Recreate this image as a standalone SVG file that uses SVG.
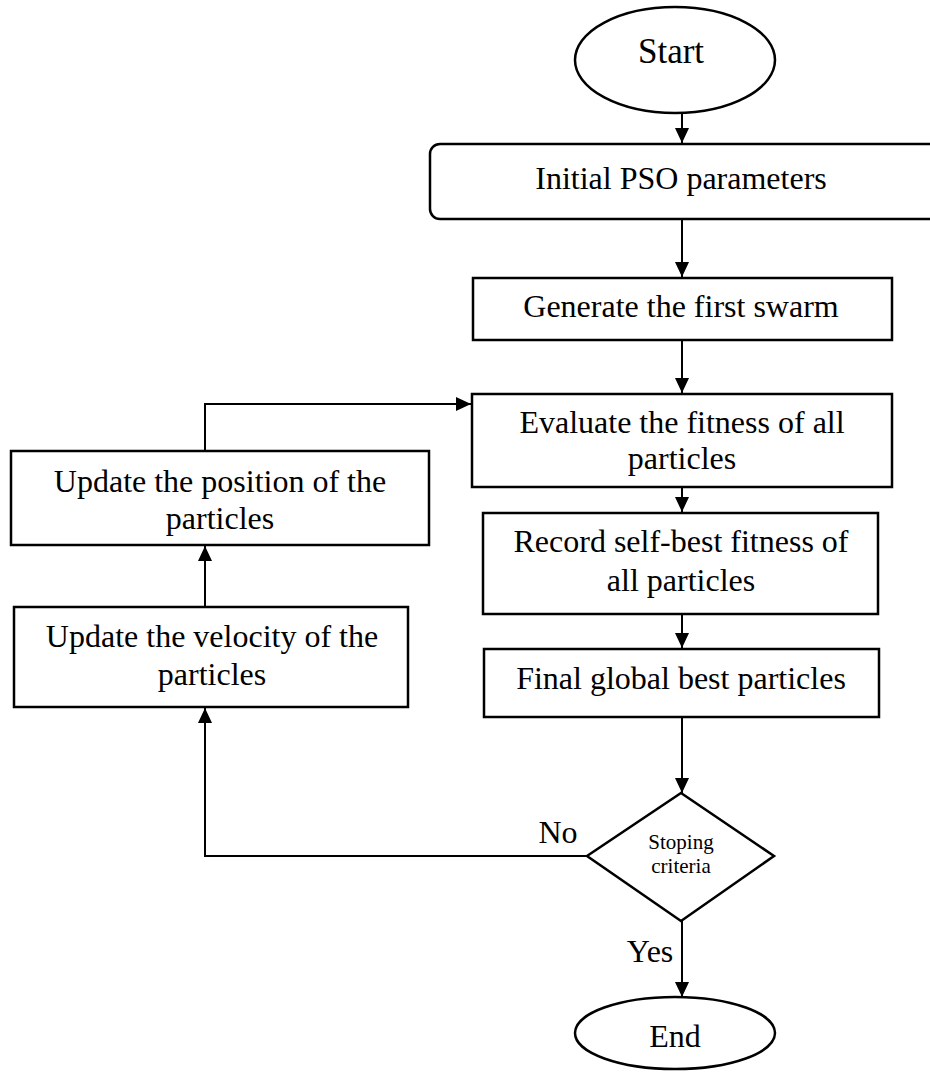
<svg xmlns="http://www.w3.org/2000/svg" width="930" height="1072" viewBox="0 0 930 1072">
<style>
.box{fill:#fff;stroke:#000;stroke-width:2.5}
.t{font-family:"Liberation Serif","Times New Roman",serif;font-size:32px;fill:#000;text-anchor:middle}
.s{font-family:"Liberation Serif","Times New Roman",serif;font-size:21px;fill:#000;text-anchor:middle}
.c{fill:none;stroke:#000;stroke-width:2}
</style>
<defs>
<marker id="ah" markerUnits="userSpaceOnUse" markerWidth="16" markerHeight="14" refX="15" refY="7" orient="auto">
<path d="M0,0 L15,7 L0,14 Z" fill="#000"/>
</marker>
</defs>
<rect width="930" height="1072" fill="#fff"/>
<g id="connectors">
<line class="c" x1="682" y1="113" x2="682" y2="143" marker-end="url(#ah)"/>
<line class="c" x1="682" y1="220" x2="682" y2="277" marker-end="url(#ah)"/>
<line class="c" x1="682" y1="340" x2="682" y2="393" marker-end="url(#ah)"/>
<line class="c" x1="682" y1="487" x2="682" y2="512" marker-end="url(#ah)"/>
<line class="c" x1="682" y1="614" x2="682" y2="648" marker-end="url(#ah)"/>
<line class="c" x1="682" y1="717" x2="682" y2="793" marker-end="url(#ah)"/>
<line class="c" x1="682" y1="921" x2="682" y2="997" marker-end="url(#ah)"/>
<polyline class="c" points="586,856 205,856 205,708" marker-end="url(#ah)"/>
<line class="c" x1="205" y1="607" x2="205" y2="546" marker-end="url(#ah)"/>
<polyline class="c" points="205,451 205,404 471,404" marker-end="url(#ah)"/>
</g>
<g id="start">
<ellipse class="box" cx="675" cy="60" rx="100" ry="53"/>
<text class="t" x="671" y="63" style="font-size:35px">Start</text>
</g>
<g id="init">
<rect class="box" x="430" y="144" width="510" height="75" rx="10"/>
<text class="t" x="681" y="189">Initial PSO parameters</text>
</g>
<g id="generate">
<rect class="box" x="473" y="278" width="419" height="62"/>
<text class="t" x="681" y="317">Generate the first swarm</text>
</g>
<g id="evaluate">
<rect class="box" x="472" y="394" width="420" height="93"/>
<text class="t" x="682" y="433">Evaluate the fitness of all</text>
<text class="t" x="682" y="469">particles</text>
</g>
<g id="record">
<rect class="box" x="483" y="513" width="395" height="101"/>
<text class="t" x="681" y="552">Record self-best fitness of</text>
<text class="t" x="681" y="591">all particles</text>
</g>
<g id="final">
<rect class="box" x="484" y="649" width="395" height="68"/>
<text class="t" x="681" y="689">Final global best particles</text>
</g>
<g id="decision">
<polygon class="box" points="681,793 774,856 681,921 587,856"/>
<text class="s" x="681" y="849">Stoping</text>
<text class="s" x="681" y="873">criteria</text>
</g>
<g id="end">
<ellipse class="box" cx="675" cy="1033" rx="100" ry="36"/>
<text class="t" x="675" y="1047">End</text>
</g>
<g id="position">
<rect class="box" x="11" y="451" width="418" height="94"/>
<text class="t" x="220" y="492">Update the position of the</text>
<text class="t" x="220" y="529">particles</text>
</g>
<g id="velocity">
<rect class="box" x="14" y="607" width="394" height="100"/>
<text class="t" x="212" y="647">Update the velocity of the</text>
<text class="t" x="212" y="685">particles</text>
</g>
<g id="labels">
<text class="t" x="558" y="843">No</text>
<text class="t" x="650" y="962">Yes</text>
</g>
</svg>
